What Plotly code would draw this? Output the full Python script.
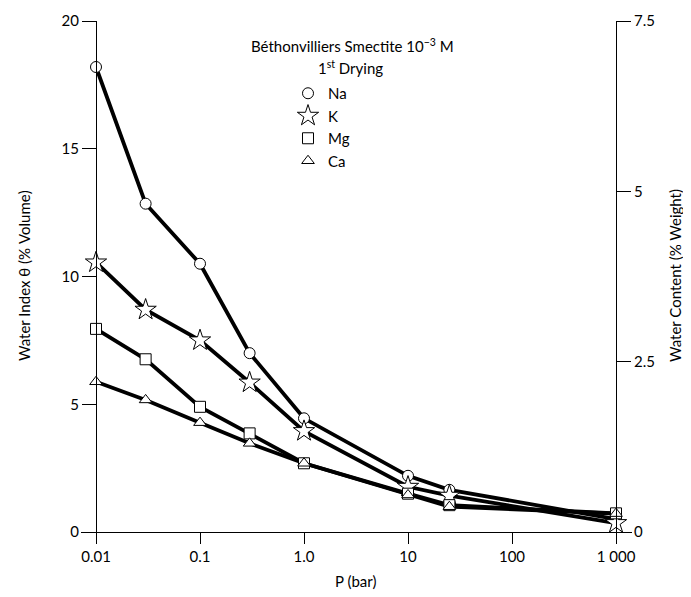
import plotly.graph_objects as go

pressure = [0.01, 0.03, 0.1, 0.3, 1, 10, 25, 1000]
na = [18.2, 12.85, 10.5, 7.0, 4.45, 2.2, 1.65, 0.5]
k = [10.55, 8.7, 7.5, 5.85, 3.95, 1.77, 1.42, 0.35]
mg = [7.95, 6.76, 4.9, 3.86, 2.69, 1.5, 1.05, 0.73]
ca = [5.88, 5.17, 4.28, 3.47, 2.69, 1.45, 0.99, 0.72]

series = [("Na", na, "circle", 11), ("K", k, "star", 16), ("Mg", mg, "square", 11), ("Ca", ca, "triangle-up", 11)]

x_tickvals = [0.01, 0.1, 1, 10, 100, 1000]
x_ticktext = ["0.01", "0.1", "1.0", "10", "100", "1 000"]
y_tickvals = [0, 5, 10, 15, 20]
y2_tickvals = [0, 2.5, 5, 7.5]
y2_ticktext = ["0", "2.5", "5", "7.5"]

FONT = "Lato"
FS = 15
OFF = 8  # page body margin
W, H = 691 - OFF, 597 - OFF

fig = go.Figure()
for name, vals, sym, sz in series:
    fig.add_trace(go.Scatter(x=pressure, y=vals, mode="lines", line=dict(color="black", width=3.8),
                             showlegend=False, hoverinfo="skip"))
for name, vals, sym, sz in series:
    fig.add_trace(go.Scatter(x=pressure, y=vals, mode="markers", name=name,
                             marker=dict(symbol=sym, size=sz, color="white", line=dict(color="black", width=1))))
fig.add_trace(go.Scatter(x=[pressure[0]], y=[0], yaxis="y2", mode="markers", marker=dict(opacity=0),
                         showlegend=False, hoverinfo="skip"))

px_dec = 104.0
l_px, r_px = 81, 632
top_px, bot_px = 21, 532
x0 = -2 - (96 - l_px) / px_dec
x1 = 3 + (r_px - 616) / px_dec
w = r_px - l_px
h = bot_px - top_px

def py(ypix):
    return (bot_px - ypix) / h

def pxf(xpix):
    return (xpix - l_px) / w

fig.update_layout(
    width=W, height=H,
    margin=dict(l=l_px - OFF, r=691 - r_px, t=top_px - OFF, b=597 - bot_px, autoexpand=False),
    paper_bgcolor="white", plot_bgcolor="white",
    font=dict(family=FONT, size=FS, color="black"),
    xaxis=dict(type="log", range=[x0, x1], tickvals=x_tickvals, ticktext=x_ticktext,
               ticks="outside", ticklen=11, tickwidth=1.2, tickcolor="black", automargin=False,
               showline=True, linecolor="black", linewidth=1.2, showgrid=False, zeroline=False),
    yaxis=dict(range=[0, 20], tickvals=y_tickvals, anchor="free", position=pxf(96), automargin=False,
               ticks="outside", ticklen=14, tickwidth=1.2, tickcolor="black",
               showline=True, linecolor="black", linewidth=1.2, showgrid=False, zeroline=False),
    yaxis2=dict(range=[0, 7.5], tickvals=y2_tickvals, ticktext=y2_ticktext, overlaying="y", side="right",
                anchor="free", position=pxf(616), automargin=False,
                ticks="outside", ticklen=14, tickwidth=1.2, tickcolor="black",
                showline=True, linecolor="black", linewidth=1.2, showgrid=False, zeroline=False),
    legend=dict(x=pxf(288), y=py(77), xanchor="left", yanchor="top",
                bgcolor="rgba(0,0,0,0)", font=dict(size=FS), tracegroupgap=0, itemwidth=30),
    showlegend=True,
)
ann = dict(xref="paper", yref="paper", showarrow=False, font=dict(size=FS))
fig.add_annotation(text="Béthonvilliers Smectite 10<sup>−3</sup> M", x=pxf(352), y=py(45),
                   xanchor="center", yanchor="middle", **ann)
fig.add_annotation(text="1<sup>st</sup> Drying", x=pxf(350), y=py(67),
                   xanchor="center", yanchor="middle", **ann)
fig.add_annotation(text="P (bar)", x=pxf(355), y=py(581), xanchor="center", yanchor="middle", **ann)
fig.add_annotation(text="Water Index θ (% Volume)", x=pxf(24), y=py(276), textangle=-90,
                   xanchor="center", yanchor="middle", **ann)
fig.add_annotation(text="Water Content (% Weight)", x=pxf(675), y=py(276), textangle=-90,
                   xanchor="center", yanchor="middle", **ann)
fig.write_html("out.html")
